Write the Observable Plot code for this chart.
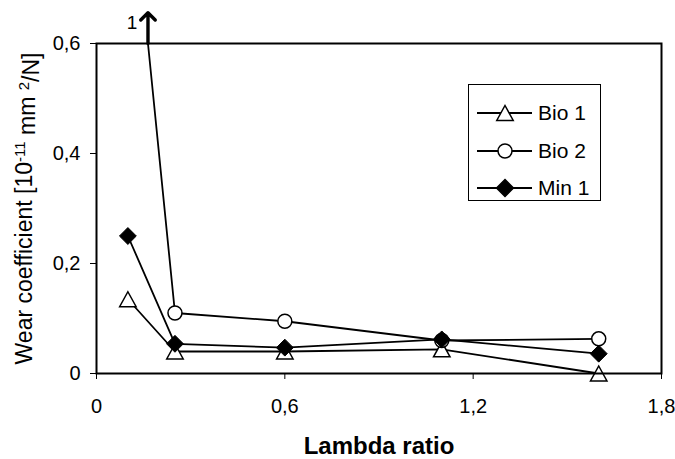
<!DOCTYPE html>
<html>
<head>
<meta charset="utf-8">
<script src="https://cdn.jsdelivr.net/npm/d3@7"></script>
<script src="https://cdn.jsdelivr.net/npm/@observablehq/plot@0.6"></script>
<style>
  html, body { margin: 0; padding: 0; background: white; }
  #wrap { position: relative; width: 675px; height: 459px; font-family: "Liberation Sans", Arial, sans-serif; }
  #legend { position: absolute; left: 468px; top: 84px; width: 131px; height: 115px; border: 1.5px solid black; background: white; }
  .row { position: absolute; left: 0; height: 24px; display: flex; align-items: center; }
  .row span { font-size: 21px; margin-left: 3px; color: black; }
</style>
</head>
<body>
<div id="wrap"><div id="legend"></div></div>
<script>
// ---- data ----
const lambda = [0.1, 0.25, 0.6, 1.1, 1.6];
const bio1 = [0.135, 0.04, 0.04, 0.044, 0.0];
const bio2Lambda = [0.164, 0.25, 0.6, 1.1, 1.6];
const bio2 = [0.6, 0.11, 0.095, 0.06, 0.063];      // first point is off-scale (capped at axis max)
const min1 = [0.25, 0.054, 0.047, 0.062, 0.036];
const bio2Offscale = [{x: 0.164, value: 1}];        // actual value of the off-scale Bio 2 point
const seriesNames = ["Bio 1", "Bio 2", "Min 1"];
const xTicks = [0, 0.6, 1.2, 1.8];
const yTicks = [0, 0.2, 0.4, 0.6];
const xLabel = "Lambda ratio";
const yLabel = "Wear coefficient [10-11 mm2/N]";

const yMax = 0.6;
const comma = d => d === 0 ? "0" : d.toFixed(1).replace(".", ",");

// triangle centred on its bounding box (like the spreadsheet marker)
const tri = {
  draw(ctx, size) {
    const r = Math.sqrt(size / Math.PI) * 1.07;
    ctx.moveTo(0, -r);
    ctx.lineTo(r * 1.1, r);
    ctx.lineTo(-r * 1.1, r);
    ctx.closePath();
  }
};

const d1 = lambda.map((x, i) => ({x, y: bio1[i]}));
const d2 = bio2Lambda.map((x, i) => ({x, y: bio2[i]}));
const d3m = lambda.map((x, i) => ({x, y: min1[i]}));

const lineOpts = {x: "x", y: "y", stroke: "black", strokeWidth: 1.8};

const chart = Plot.plot({
  width: 675,
  height: 459,
  marginLeft: 96,
  marginRight: 14,
  marginTop: 43,
  marginBottom: 86,
  style: {fontFamily: "'Liberation Sans', Arial, sans-serif", fontSize: "20px", color: "black", background: "white", overflow: "visible"},
  x: {domain: [0, 1.8], ticks: xTicks, tickFormat: comma, tickSize: 6, tickPadding: 19, label: null},
  y: {domain: [0, yMax], ticks: yTicks, tickFormat: comma, tickSize: 6, tickPadding: 10, label: null},
  marks: [
    Plot.line(d1, lineOpts),
    Plot.dot(d1, {x: "x", y: "y", symbol: tri, r: 7, fill: "white", stroke: "black", strokeWidth: 1.5}),
    Plot.line(d2, lineOpts),
    Plot.dot(d2.filter(d => d.y < yMax), {x: "x", y: "y", symbol: "circle", r: 7, fill: "white", stroke: "black", strokeWidth: 1.5}),
    Plot.line(d3m, lineOpts),
    Plot.dot(d3m, {x: "x", y: "y", symbol: "diamond2", r: 7.6, fill: "black", stroke: "black", strokeWidth: 1}),
    Plot.arrow(bio2Offscale, {x1: "x", x2: "x", y1: () => yMax, y2: () => yMax + 0.056, stroke: "black", strokeWidth: 3.4, headLength: 12, headAngle: 90}),
    Plot.text(bio2Offscale, {x: "x", y: () => yMax + 0.037, text: d => String(d.value), dx: -16, fontSize: 19, fill: "black"}),
    Plot.frame({stroke: "black", strokeWidth: 2}),
    Plot.text([xLabel], {frameAnchor: "bottom", dy: 73, text: d => d, fontSize: 24, fontWeight: "bold", fill: "black", lineAnchor: "middle", textAnchor: "middle"}),
    Plot.text([yLabel], {frameAnchor: "left", dx: -72, rotate: -90, text: d => d, fontSize: 23, fill: "black", lineAnchor: "middle", textAnchor: "middle"})
  ]
});

// superscripts in the y label
d3.select(chart).selectAll("text").filter(function() { return this.textContent === yLabel; }).each(function() {
  const t = d3.select(this);
  t.text(null);
  t.append("tspan").text("Wear coefficient [10");
  t.append("tspan").attr("dy", "-0.45em").attr("font-size", 15).text("-11");
  t.append("tspan").attr("dy", "0.45em").text(" mm ");
  t.append("tspan").attr("dy", "-0.45em").attr("font-size", 15).text("2");
  t.append("tspan").attr("dy", "0.45em").text("/N]");
});

const wrap = document.getElementById("wrap");
wrap.insertBefore(chart, wrap.firstChild);

// legend
const legend = d3.select("#legend");
const symbols = [
  {sym: tri, r: 7, fill: "white"},
  {sym: d3.symbolCircle, r: 7, fill: "white"},
  {sym: d3.symbolDiamond2, r: 7.6, fill: "black"}
];
seriesNames.forEach((name, i) => {
  const row = legend.append("div").attr("class", "row").style("top", (16 + i * 37.5) + "px");
  const svg = row.append("svg").attr("width", 66).attr("height", 24);
  svg.append("line").attr("x1", 8).attr("x2", 63).attr("y1", 12).attr("y2", 12).attr("stroke", "black").attr("stroke-width", 1.8);
  const s = symbols[i];
  svg.append("path").attr("transform", "translate(36,12)")
    .attr("d", d3.symbol(s.sym, Math.PI * s.r * s.r)())
    .attr("fill", s.fill).attr("stroke", "black").attr("stroke-width", 1.5);
  row.append("span").text(name);
});
</script>
</body>
</html>
